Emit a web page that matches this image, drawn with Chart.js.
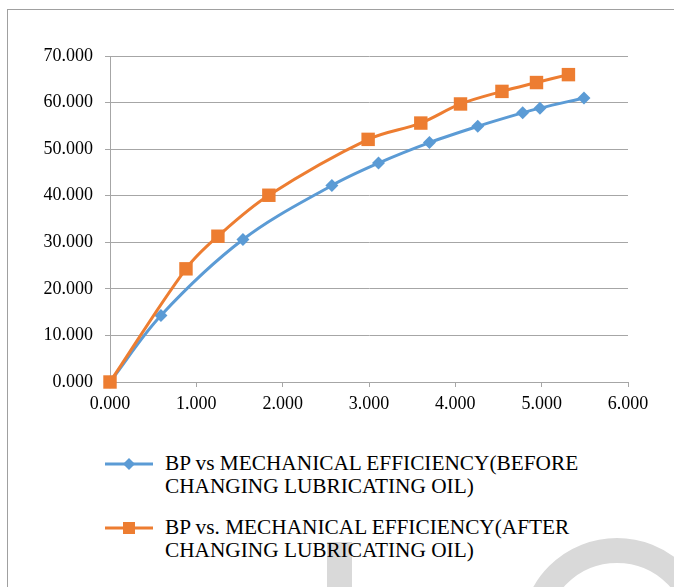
<!DOCTYPE html>
<html>
<head>
<meta charset="utf-8">
<script src="https://cdn.jsdelivr.net/npm/chart.js@4"></script>
<style>
  html, body { margin: 0; padding: 0; background: #fff; }
  body { width: 674px; height: 587px; position: relative; overflow: hidden; font-family: "Liberation Serif", "Times New Roman", serif; }
  #frame { position: absolute; left: 7px; top: 9px; width: 800px; height: 800px; border: 1px solid #a0a0a0; }
  #wrap { position: absolute; left: 0; top: 0; width: 674px; height: 425px; }
  .wm { position: absolute; background: #d9d9d9; }
  #wmRing { position: absolute; left: 521px; top: 538px; width: 192px; height: 192px; box-sizing: border-box; border: 25px solid #d9d9d9; border-radius: 50%; }
  .item { position: absolute; left: 104px; font-size: 21.3px; line-height: 23px; color: #000; }
  .item svg { position: absolute; left: 0; top: 4px; }
  .item span { position: absolute; left: 61px; top: 0; white-space: nowrap; }
</style>
</head>
<body>
<div id="frame"></div>
<div class="wm" style="left:327px; top:542px; width:25px; height:60px;"></div>
<div id="wmRing"></div>
<div id="wrap"><canvas id="mechChart"></canvas></div>

<div class="item" style="top:452px;">
  <svg width="50" height="16"><line x1="1" y1="8" x2="49" y2="8" stroke="#5b9bd5" stroke-width="3"/><polygon points="25,2 31,8 25,14 19,8" fill="#5b9bd5"/></svg>
  <span>BP vs MECHANICAL EFFICIENCY(BEFORE<br>CHANGING LUBRICATING OIL)</span>
</div>
<div class="item" style="top:516px;">
  <svg width="50" height="16"><line x1="1" y1="8" x2="49" y2="8" stroke="#ed7d31" stroke-width="3"/><rect x="19" y="2" width="12" height="12" fill="#ed7d31"/></svg>
  <span>BP vs. MECHANICAL EFFICIENCY(AFTER<br>CHANGING LUBRICATING OIL)</span>
</div>

<script>
// data
const beforeBP  = [0, 0.59, 1.54, 2.57, 3.11, 3.70, 4.26, 4.78, 4.98, 5.49];
const beforeEff = [0, 14.3, 30.6, 42.2, 47.0, 51.4, 54.9, 57.8, 58.8, 61.0];
const afterBP   = [0, 0.88, 1.25, 1.84, 2.99, 3.60, 4.06, 4.54, 4.94, 5.31];
const afterEff  = [0, 24.3, 31.3, 40.1, 52.1, 55.6, 59.7, 62.4, 64.3, 66.0];

const toPoints = (xs, ys) => xs.map((x, i) => ({ x: x, y: ys[i] }));

const tickFont = { family: '"Liberation Serif", "Times New Roman", serif', size: 18 };
const gridGray = '#a6a6a6';

const ctx = document.getElementById('mechChart').getContext('2d');
const mechChart = new Chart(ctx, {
    type: 'scatter',
    data: {
        datasets: [{
            label: 'BP vs MECHANICAL EFFICIENCY(BEFORE CHANGING LUBRICATING OIL)',
            data: toPoints(beforeBP, beforeEff),
            order: 1,
            showLine: true,
            clip: false,
            borderColor: '#5b9bd5',
            backgroundColor: '#5b9bd5',
            borderWidth: 3,
            tension: 0.35,
            pointStyle: 'rectRot',
            pointRadius: 6.5,
            pointBorderWidth: 0
        }, {
            label: 'BP vs. MECHANICAL EFFICIENCY(AFTER CHANGING LUBRICATING OIL)',
            data: toPoints(afterBP, afterEff),
            order: 0,
            showLine: true,
            clip: false,
            borderColor: '#ed7d31',
            backgroundColor: '#ed7d31',
            borderWidth: 3,
            tension: 0.35,
            pointStyle: 'rect',
            pointRadius: 9.5,
            pointBorderWidth: 0
        }]
    },
    options: {
        responsive: true,
        maintainAspectRatio: false,
        animation: false,
        layout: { padding: { top: 56, right: 46, left: 0, bottom: 0 } },
        plugins: {
            legend: { display: false },
            tooltip: { enabled: false }
        },
        scales: {
            x: {
                type: 'linear',
                min: 0,
                max: 6,
                afterFit: (scale) => { scale.height = 43; },
                ticks: {
                    stepSize: 1,
                    color: '#000',
                    font: tickFont,
                    padding: 6,
                    callback: (v) => v.toFixed(3)
                },
                grid: { drawOnChartArea: false, drawTicks: true, tickLength: 5, color: gridGray },
                border: { color: gridGray }
            },
            y: {
                min: 0,
                max: 70,
                afterFit: (scale) => { scale.width = 110; },
                ticks: {
                    stepSize: 10,
                    color: '#000',
                    font: tickFont,
                    padding: 12,
                    callback: (v) => v.toFixed(3)
                },
                grid: { drawOnChartArea: true, drawTicks: true, tickLength: 5, color: gridGray },
                border: { color: gridGray }
            }
        }
    }
});
</script>
</body>
</html>
